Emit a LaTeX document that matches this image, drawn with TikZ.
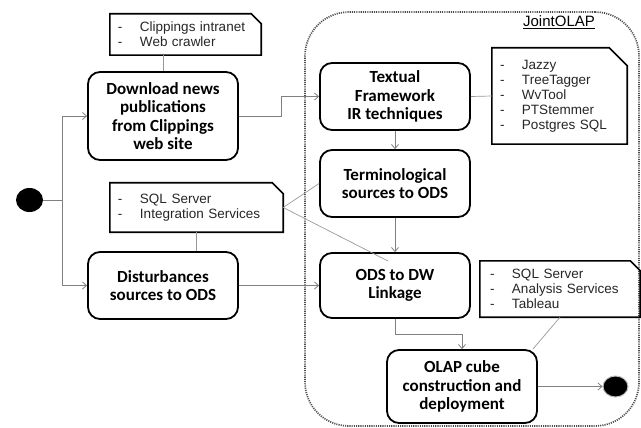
\documentclass[tikz,border=0pt]{standalone}
\usepackage{fontspec}
\setmainfont{Liberation Sans}
\newfontfamily\boxfont{Carlito}
\usetikzlibrary{arrows.meta,calc,shapes.geometric}

% one bulleted line of a note
\newcommand\noteitem[1]{\hspace*{8pt}\makebox[22pt][l]{-}#1}
% outline of a note with its top right corner folded
\newcommand\foldframe[2]{\draw[notefr] (#1.north west) -- ([xshift=-#2]#1.north east) -- ([yshift=-#2]#1.north east) -- (#1.south east) -- (#1.south west) -- cycle;}

\tikzset{
  stage/.style={draw=black, line width=1.8pt, rounded corners=12pt, fill=white,
    align=center, inner sep=0pt, font=\boxfont\bfseries\fontsize{17}{18.5}\selectfont},
  notetext/.style={inner sep=0pt, align=left, text=black!85,
    font=\fontsize{13.5}{15}\selectfont},
  notefr/.style={draw=black, line width=1.6pt},
  conn/.style={draw=black!50, line width=0.8pt},
  flow/.style={conn, -{Straight Barb[length=4pt,width=7pt]}},
  tie/.style={draw=black!40, line width=0.7pt},
  blob/.style={ellipse, fill=black, inner sep=0pt},
  region/.style={draw=black!70, line width=1.7pt, dash pattern=on 1.1pt off 1.1pt,
    rounded corners=44pt, inner sep=0pt}
}

\begin{document}
\begin{tikzpicture}[x=1pt,y=-1pt]
\useasboundingbox (0,0) rectangle (641,428);

% JointOLAP boundary
\node[region, minimum width=334pt, minimum height=414pt] (joint) at (472,219) {};
\node[font=\fontsize{15}{17}\selectfont, inner sep=0pt] (jointlbl) at (559,22) {\underline{JointOLAP}};

% start and end
\node[blob, minimum width=27pt, minimum height=24pt] (start) at (29.5,200) {};
\node[blob, draw=black!25, line width=1pt, minimum width=25pt, minimum height=21pt] (finish) at (615.5,386.5) {};

% activities
\node[stage, minimum width=150pt, minimum height=88pt] (dl) at (163,116)
  {Download news\\publications\\from Clippings\\web site};
\node[stage, minimum width=150pt, minimum height=67pt] (dist) at (163,285.5)
  {Disturbances\\sources to ODS};
\node[stage, minimum width=150pt, minimum height=67pt] (tx) at (395,96.5)
  {Textual\\Framework\\IR techniques};
\node[stage, minimum width=150pt, minimum height=67pt] (term) at (395,183.5)
  {Terminological\\sources to ODS};
\node[stage, minimum width=150pt, minimum height=65pt] (ods) at (395,285.5)
  {ODS to DW\\Linkage};
\node[stage, minimum width=150pt, minimum height=73pt] (olap) at (462,386.5)
  {OLAP cube\\construction and\\deployment};

% notes
\node[notetext, text width=151pt, minimum height=41pt] (n1) at (185.5,34.5)
  {\noteitem{Clippings intranet}\\\noteitem{Web crawler}};
\foldframe{n1}{10pt}
\node[notetext, text width=173pt, minimum height=49pt] (n2) at (196.5,207.5)
  {\noteitem{SQL Server}\\\noteitem{Integration Services}};
\foldframe{n2}{11pt}
\node[notetext, text width=135pt, minimum height=96pt] (n3) at (559.5,96)
  {\noteitem{Jazzy}\\\noteitem{TreeTagger}\\\noteitem{WvTool}\\\noteitem{PTStemmer}\\\noteitem{Postgres SQL}};
\foldframe{n3}{18pt}
\node[notetext, text width=160pt, minimum height=56pt] (n4) at (560,289)
  {\hspace*{2pt}\noteitem{SQL Server}\\\hspace*{2pt}\noteitem{Analysis Services}\\\hspace*{2pt}\noteitem{Tableau}};
\foldframe{n4}{10pt}

% control flow
\coordinate (fork) at (62,200);
\draw[conn] (start.east) -- (fork);
\draw[flow] (fork) |- (dl.west);
\draw[flow] (fork) |- (dist.west);
\draw[flow] (dl.east) -- ++(42,0) |- (tx.west);
\draw[flow] (tx.south) -- (term.north);
\draw[flow] (term.south) -- (ods.north);
\draw[flow] (dist.east) -- (ods.west);
\draw[flow] (ods.south) -- ++(0,15) -| (olap.north);
\draw[flow] (olap.east) -- (finish.west);

% note attachments
\draw[tie] (dl.north) -- (dl.north |- n1.south);
\draw[tie] (n2.south) -- (n2.south |- dist.north);
\draw[tie] (n2.east) -- (term.west);
\coordinate (odsin) at ([shift={(-7,-24.5)}]ods.center);
\draw[tie] (n2.east) -- (odsin);
\draw[tie] (tx.east) -- (n3.west);
\draw[tie] (n4.south) -- ([xshift=-5pt]olap.north east);
\end{tikzpicture}
\end{document}
